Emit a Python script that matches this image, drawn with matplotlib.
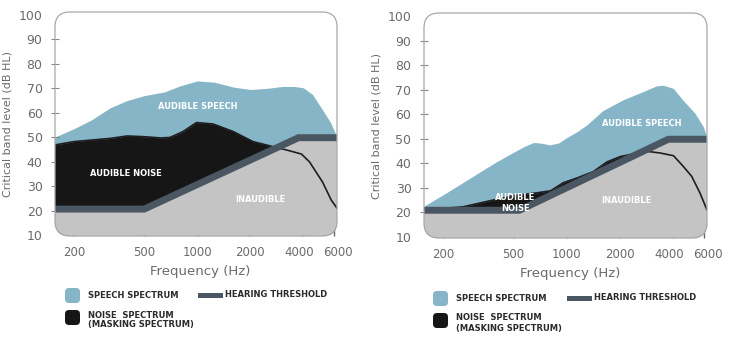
import matplotlib
matplotlib.use('Agg')
import matplotlib.pyplot as plt
from matplotlib.patches import FancyBboxPatch, Rectangle
from matplotlib.ticker import NullLocator
from matplotlib.transforms import ScaledTranslation

# colours
speech_col = '#87b5c8'
noise_col = '#161616'
quiet_col = '#c4c4c4'
thresh_col = '#4a5661'
text_col = '#6b6b6b'

# ---- left chart: loud background noise
left_speech_f = [155, 200, 250, 320, 400, 500, 650, 800, 1000, 1250, 1600, 2000, 2500, 3000, 3600, 4000, 4500, 5100, 5700, 6200]
left_speech_db = [50, 53.5, 57, 62, 65, 67, 68.5, 71, 73, 72.5, 70.5, 69.5, 70, 70.7, 70.7, 70.2, 67.5, 61.5, 56, 50]
left_noise_f = [155, 200, 320, 400, 500, 620, 700, 830, 990, 1230, 1600, 2070, 2700, 3200, 3900, 4330, 5130, 5750, 6200]
left_noise_db = [46.8, 48.2, 49.5, 50.5, 50.2, 49.7, 49.9, 52.3, 56, 55.4, 52.3, 48.2, 46.1, 44.8, 43.1, 39.9, 31.7, 24.3, 21]
left_thresh_f = [150, 500, 3750, 6300]
left_thresh_db = [20.6, 20.6, 49.8, 49.8]

# ---- right chart: quiet background noise
right_speech_f = [157, 200, 250, 320, 400, 500, 580, 650, 720, 800, 900, 1000, 1150, 1300, 1600, 2100, 2700, 3200, 3500, 4000, 4500, 5300, 5900, 6200]
right_speech_db = [22.7, 27.2, 31.5, 36.3, 40.6, 44.5, 47, 48.5, 48.2, 47.5, 48.3, 50.5, 53, 55.7, 61.5, 66, 69.2, 71.5, 71.8, 70.5, 66, 60.4, 55, 50.5]
right_noise_f = [157, 260, 370, 500, 680, 810, 955, 1150, 1410, 1690, 2000, 2500, 2900, 3370, 4010, 4560, 5080, 5660, 6200]
right_noise_db = [21, 22.3, 24.8, 26.8, 28.0, 28.8, 32.1, 34.1, 36.6, 40.6, 42.7, 44.2, 44.8, 44.2, 43.1, 38.7, 34.7, 27.9, 21]
right_thresh_f = [150, 540, 3750, 6300]
right_thresh_db = [20.9, 20.9, 49.8, 49.8]

freq_ticks = [200, 500, 1000, 2000, 4000, 6000]
db_ticks = [10, 20, 30, 40, 50, 60, 70, 80, 90, 100]

W, H = 743, 343
fig = plt.figure(figsize=(W / 100, H / 100), dpi=100)


def px_rect(x0, y0, x1, y1):
    # pixel box (origin top-left) -> figure fraction [l, b, w, h]
    return [x0 / W, 1 - y1 / H, (x1 - x0) / W, (y1 - y0) / H]


def draw_panel(rect, sf, sdb, nf, ndb, tf, tdb, labels):
    ax = fig.add_axes(px_rect(*rect))
    w_px = rect[2] - rect[0]
    h_px = rect[3] - rect[1]
    ax.set_xscale('log')
    ax.set_xlim(156, 6200)
    ax.set_ylim(9.6, 101.2)
    ax.patch.set_visible(False)
    for s in ax.spines.values():
        s.set_visible(False)

    style = 'round,pad=0,rounding_size=%f' % (15 / w_px)
    box = FancyBboxPatch((0, 0), 1, 1, boxstyle=style, mutation_aspect=w_px / h_px,
                         transform=ax.transAxes, facecolor='white', edgecolor='none', zorder=0)
    ax.add_patch(box)
    edge = FancyBboxPatch((0, 0), 1, 1, boxstyle=style, mutation_aspect=w_px / h_px,
                          transform=ax.transAxes, facecolor='none', edgecolor='#a8a8a8',
                          lw=0.9, zorder=10, clip_on=False)
    ax.add_patch(edge)

    arts = [ax.fill_between(sf, 0, sdb, color=speech_col, lw=0, zorder=1),
            ax.fill_between(nf, 0, ndb, color=noise_col, lw=0, zorder=2),
            ax.fill_between(tf, 0, tdb, color=quiet_col, lw=0, zorder=3)]
    arts += ax.plot(nf, ndb, color='#1e1e1e', lw=1.2, zorder=3.5)
    arts += ax.plot(tf, tdb, color=thresh_col, lw=5, zorder=4,
                    solid_joinstyle='miter', solid_capstyle='butt')
    for a in arts:
        a.set_clip_path(box)

    for txt, f, db in labels:
        ax.text(f, db, txt, color='white', fontsize=6, fontweight='bold',
                ha='center', va='center', zorder=6, linespacing=1.3)

    ax.set_xticks(freq_ticks)
    ax.set_xticklabels([str(f) for f in freq_ticks])
    ax.xaxis.set_minor_locator(NullLocator())
    ax.set_yticks(db_ticks)
    ax.set_yticklabels([str(d) for d in db_ticks])
    ax.tick_params(axis='x', direction='in', length=6, width=1, color='#666666',
                   pad=7, labelsize=8.5, labelcolor=text_col)
    ax.tick_params(axis='y', direction='inout', length=6, width=0.8, color='#888888',
                   pad=6, labelsize=9, labelcolor=text_col)
    yt = ax.yaxis.get_major_ticks()
    yt[0].tick1line.set_visible(False)
    yt[-1].tick1line.set_visible(False)
    # nudge the two crowded labels apart
    xl = ax.get_xticklabels()
    xl[-2].set_transform(xl[-2].get_transform() + ScaledTranslation(-0.04, 0, fig.dpi_scale_trans))
    xl[-1].set_transform(xl[-1].get_transform() + ScaledTranslation(0.03, 0, fig.dpi_scale_trans))
    return ax


draw_panel((55, 12, 337, 236), left_speech_f, left_speech_db, left_noise_f, left_noise_db,
           left_thresh_f, left_thresh_db,
           [('AUDIBLE SPEECH', 1000, 62.4), ('AUDIBLE NOISE', 393, 35),
            ('INAUDIBLE', 2285, 24.7)])
draw_panel((424, 13, 707, 238), right_speech_f, right_speech_db, right_noise_f, right_noise_db,
           right_thresh_f, right_thresh_db,
           [('AUDIBLE SPEECH', 2650, 56.1), ('AUDIBLE\nNOISE', 512, 23.8),
            ('INAUDIBLE', 2167, 24.9)])

# axis titles
for x, y in [(8, 124), (377, 126)]:
    fig.text(x / W, 1 - y / H, 'Critical band level (dB HL)', rotation=90,
             ha='center', va='center', fontsize=8, color=text_col)
for x, y in [(200, 272), (570, 273)]:
    fig.text(x / W, 1 - y / H, 'Frequency (Hz)', ha='center', va='center',
             fontsize=9.5, color=text_col)


def swatch(x0, y0, x1, y1, col, r=4):
    style = 'round,pad=0,rounding_size=%f' % (r / W)
    fig.add_artist(FancyBboxPatch((x0 / W, 1 - y1 / H), (x1 - x0) / W, (y1 - y0) / H,
                                  boxstyle=style, mutation_aspect=W / H,
                                  transform=fig.transFigure, facecolor=col, edgecolor='none'))


def legend(x, y, bx):
    # x,y: left/top of the legend block in pixels, bx: left of threshold bar
    swatch(x, y, x + 15, y + 15, speech_col)
    swatch(x, y + 22, x + 15, y + 37, noise_col)
    fig.add_artist(Rectangle((bx / W, 1 - (y + 9.5) / H), 25 / W, 5 / H,
                             transform=fig.transFigure, facecolor=thresh_col, edgecolor='none'))
    kw = dict(fontsize=6, fontweight='bold', color='#2b2b2b', va='center', ha='left')
    fig.text((x + 23) / W, 1 - (y + 7.5) / H, 'SPEECH SPECTRUM', **kw)
    fig.text((bx + 27) / W, 1 - (y + 6.5) / H, 'HEARING THRESHOLD', **kw)
    fig.text((x + 23) / W, 1 - (y + 27) / H, 'NOISE  SPECTRUM', **kw)
    fig.text((x + 23) / W, 1 - (y + 37) / H, '(MASKING SPECTRUM)', **kw)


legend(65, 288, 198)
legend(433, 291, 567)

fig.savefig('out.png', dpi=100)
